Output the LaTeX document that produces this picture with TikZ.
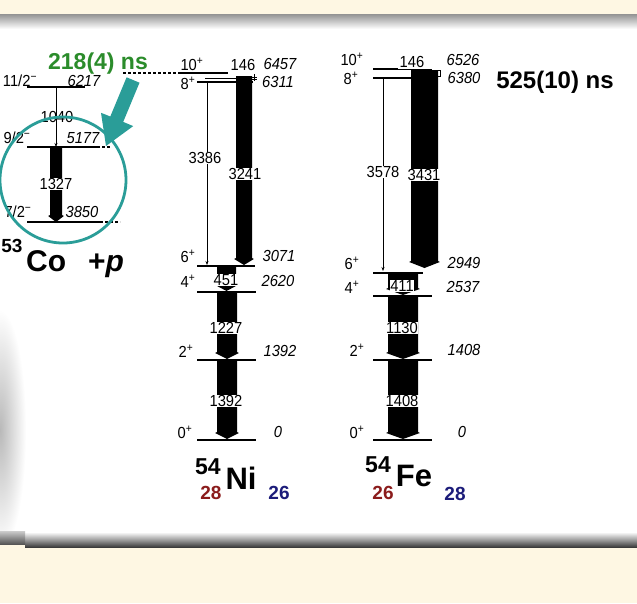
\documentclass[tikz,border=0pt]{standalone}
\usepackage{fontspec}
\setmainfont{Liberation Sans}
\newfontfamily\lblfont[FakeStretch=0.92]{Liberation Sans}
\usetikzlibrary{arrows.meta}
\definecolor{cream}{HTML}{FEF7E3}
\definecolor{tealc}{HTML}{2A9D98}
\definecolor{greenc}{HTML}{2B8C2B}
\definecolor{redc}{HTML}{8B1C1C}
\definecolor{bluec}{HTML}{1C1C7A}
\newcommand\gbar[4]{\fill (#1,#3) -- (#2,#3) -- (#2,#4-7) -- (#2+1.8,#4-6) -- ({(#1+#2)/2},#4) -- (#1-1.8,#4-6) -- (#1,#4-7) -- cycle;}
\begin{document}
\begin{tikzpicture}[x=1pt,y=-1pt,
  lvl/.style={line width=1.6pt},
  thinlvl/.style={line width=0.7pt},
  dashlvl/.style={line width=1.4pt,densely dashed},
  gam/.style={line width=0.6pt,-{Stealth[length=4pt,width=3pt]}},
  en/.style={font=\lblfont\itshape\fontsize{16}{16}\selectfont, inner sep=0pt},
  sp/.style={font=\lblfont\fontsize{16}{16}\selectfont, inner sep=0pt},
  gl/.style={font=\lblfont\fontsize{16}{16}\selectfont, inner sep=0.5pt, fill=white},
  big/.style={font=\bfseries\fontsize{#1}{#1}\selectfont, inner sep=0pt}]
\useasboundingbox (0,0) rectangle (637,603);
\clip (0,0) rectangle (637,603);
% background
\fill[white] (0,0) rectangle (637,603);
\fill[cream] (0,0) rectangle (637,14);
\shade[top color=gray!85, bottom color=white] (0,14) rectangle (637,29);
\shade[inner color=gray!55, outer color=white] (0,430) ellipse (26 and 120);
\shade[top color=white, bottom color=black!82, middle color=gray!80] (25,532) rectangle (637,548);
\shade[top color=gray!40, bottom color=black!70] (0,531) rectangle (25,545);
\fill[cream] (0,548) rectangle (637,603);
\fill[cream] (0,545) rectangle (25,548);

% ---------- 53Co + p ----------
\draw[lvl] (27,87) -- (85,87);
\draw[dashlvl] (123,73) -- (180,73);
\draw[lvl] (27,147) -- (97,147);
\draw[dashlvl] (97,147) -- (110,147);
\draw[lvl] (27,222) -- (100,222);
\draw[dashlvl] (100,222) -- (120,222);
\draw[gam] (56,87) -- (56,147);
\gbar{50}{62}{147}{222}
\node[sp] (c11) at (20,81) {11/2\textsuperscript{−}};
\node[en] (e6217) at (84,81) {6217};
\node[sp] (c9) at (17,138) {9/2\textsuperscript{−}};
\node[en] (e5177) at (83,138) {5177};
\node[sp] (c7) at (18,212) {7/2\textsuperscript{−}};
\node[en] (e3850) at (82,212) {3850};
\node[gl, fill=none] (g1040) at (57,117) {1040};
\node[gl] (g1327) at (56,184) {1327};
\draw[tealc, line width=2.8pt] (63,180) circle (63);
\fill[tealc] (139.5,82.7) -- (123.2,121.9) -- (133.2,126.1) -- (106,146) -- (101.0,112.8) -- (110.3,116.5) -- (126.6,77.3) -- cycle;
\node[big=23, greenc, anchor=base] (t218) at (98,69) {218(4) ns};
\node[big=19] (a53) at (12,246) {53};
\node[big=30, anchor=base west] (co) at (26,271) {Co};
\node[big=30, anchor=base west] (pp) at (88,271) {+\textit{p}};

% ---------- 54Ni ----------
\draw[lvl] (180,73) -- (228,73);
\draw[thinlvl] (205,78) -- (240,78);
\draw[lvl] (197,82) -- (253,82);
\draw[line width=0.6pt] (254,74) -- (254,81);
\draw[line width=0.5pt] (251,77) -- (257,77) (251,79.5) -- (257,79.5);
\gbar{236}{252}{76}{265}
\draw[gam] (207,82) -- (207,265);
\draw[lvl] (197,266) -- (255,266);
\gbar{217}{236}{267}{291}
\draw[lvl] (197,292) -- (256,292);
\gbar{217}{237}{293}{359}
\draw[lvl] (197,360) -- (256,360);
\gbar{217}{237}{361}{439}
\draw[lvl] (197,440) -- (256,440);
\node[sp] (n10) at (192,64) {10\textsuperscript{+}};
\node[sp] (n8) at (188,83) {8\textsuperscript{+}};
\node[sp] (n6) at (188,256) {6\textsuperscript{+}};
\node[sp] (n4) at (188,281) {4\textsuperscript{+}};
\node[sp] (n2) at (186,351) {2\textsuperscript{+}};
\node[sp] (n0) at (185,432) {0\textsuperscript{+}};
\node[gl, fill=none] (ng146) at (243,65) {146};
\node[en] (ne6457) at (280,64) {6457};
\node[en] (ne6311) at (278,82) {6311};
\node[gl] (ng3386) at (205,158) {3386};
\node[gl] (ng3241) at (245,174) {3241};
\node[en] (ne3071) at (279,256) {3071};
\node[gl] (ng451) at (226,280) {451};
\node[en] (ne2620) at (278,281) {2620};
\node[gl] (ng1227) at (226,328) {1227};
\node[en] (ne1392) at (280,351) {1392};
\node[gl] (ng1392) at (226,401) {1392};
\node[en] (ne0) at (278,432) {0};
\node[big=23] (ni54) at (208,467) {54};
\node[big=31] (ni) at (241,478) {Ni};
\node[big=19, redc] (ni28) at (211,493) {28};
\node[big=19, bluec] (ni26) at (279,493) {26};

% ---------- 54Fe ----------
\draw[lvl] (373,69) -- (398,69);
\draw[thinlvl] (398,69) -- (432,69);
\draw[lvl] (373,78) -- (422,78);
\gbar{411}{438}{70}{268}
\draw[line width=0.5pt] (433,70) rectangle (440,76);
\draw[gam] (383,78) -- (383,271);
\draw[lvl] (373,273) -- (423,273);
\gbar{388}{418}{274}{295}
\draw[lvl] (373,296) -- (432,296);
\gbar{388}{418}{297}{359}
\draw[lvl] (373,360) -- (432,360);
\gbar{388}{418}{361}{439}
\draw[lvl] (373,440) -- (432,440);
\node[sp] (f10) at (352,59) {10\textsuperscript{+}};
\node[sp] (f8) at (351,78) {8\textsuperscript{+}};
\node[sp] (f6) at (352,263) {6\textsuperscript{+}};
\node[sp] (f4) at (352,287) {4\textsuperscript{+}};
\node[sp] (f2) at (357,350) {2\textsuperscript{+}};
\node[sp] (f0) at (357,432) {0\textsuperscript{+}};
\node[gl, fill=none] (fg146) at (412,62) {146};
\node[en] (fe6526) at (463,60) {6526};
\node[en] (fe6380) at (464,78) {6380};
\node[gl] (fg3578) at (383,172) {3578};
\node[gl] (fg3431) at (424,175) {3431};
\node[en] (fe2949) at (464,263) {2949};
\node[gl] (fg411) at (402,286) {411};
\node[en] (fe2537) at (463,287) {2537};
\node[gl] (fg1130) at (402,328) {1130};
\node[en] (fe1408) at (464,350) {1408};
\node[gl] (fg1408) at (402,401) {1408};
\node[en] (fe0) at (462,432) {0};
\node[big=23] (fe54) at (378,465) {54};
\node[big=31] (fe) at (414,476) {Fe};
\node[big=19, redc] (fe26) at (383,493) {26};
\node[big=19, bluec] (fe28) at (455,494) {28};
\node[big=24, anchor=base] (t525) at (555,88) {525(10) ns};
\end{tikzpicture}
\end{document}
